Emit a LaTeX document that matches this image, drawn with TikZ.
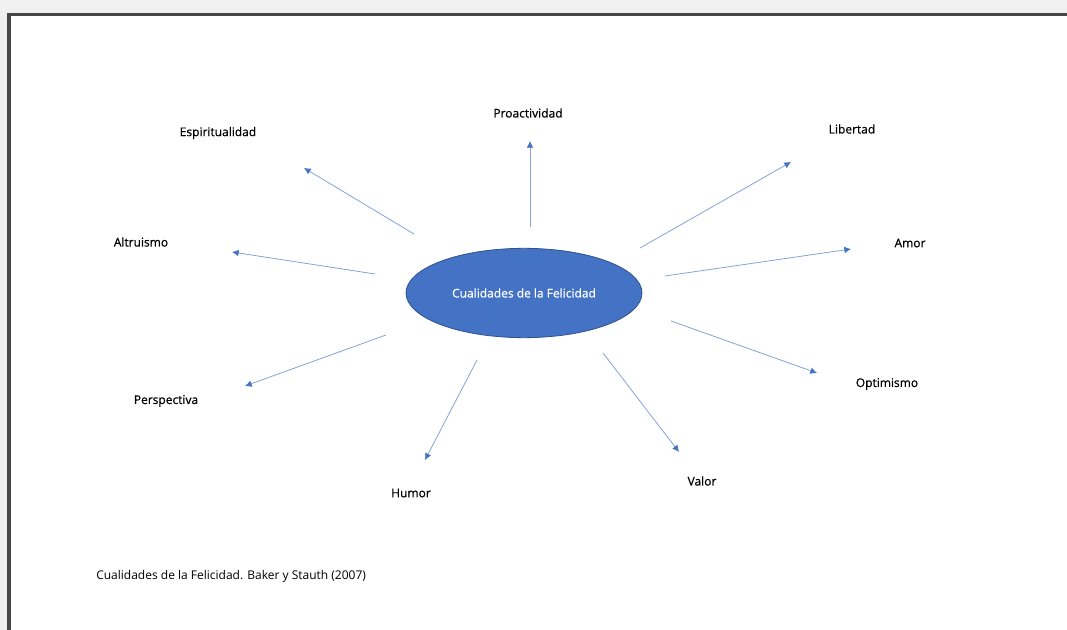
\documentclass[tikz,border=0pt]{standalone}
\usepackage{fontspec}
\setmainfont{Open Sans}
\newfontfamily\labelfont[FakeBold=0.6]{Open Sans}
\usetikzlibrary{arrows.meta,shapes.geometric}
\definecolor{accent}{HTML}{4472C4}
\definecolor{accentdark}{HTML}{2F528F}
\definecolor{framegray}{HTML}{474747}

\begin{document}
\begin{tikzpicture}[x=0.75pt,y=-0.75pt,
  q/.style={font=\labelfont\fontsize{9}{11}\selectfont,inner sep=0pt},
  hub/.style={ellipse,fill=accent,draw=accentdark,line width=0.6pt,minimum width=177pt,minimum height=67pt,inner sep=0pt,text=white,font=\labelfont\fontsize{9}{11}\selectfont},
  arr/.style={-{Latex[length=5pt,width=5pt,color=accent]},draw=accent!65,line width=0.6pt}]
\useasboundingbox (0,0) rectangle (1067,630);
\fill[gray!12] (0,0) rectangle (1067,630);
\fill[white] (10,16) rectangle (1067,630);
\draw[framegray,line width=2.6pt] (9,630) -- (9,14.5) -- (1067,14.5);
% centre
\node[hub] (hub) at (524,293) {Cualidades de la Felicidad};
% qualities
\node[q] (proactividad) at (528,113) {Proactividad};
\node[q] (libertad) at (852,129) {Libertad};
\node[q] (amor) at (910,243) {Amor};
\node[q] (optimismo) at (887,384) {Optimismo};
\node[q] (valor) at (702,481) {Valor};
\node[q] (humor) at (411,493) {Humor};
\node[q] (perspectiva) at (166,401) {Perspectiva};
\node[q] (altruismo) at (141,242) {Altruismo};
\node[q] (espiritualidad) at (218,133) {Espiritualidad};
% arrow ends
\coordinate (t1) at (530,227); \coordinate (h1) at (530,141);
\coordinate (t2) at (640,248); \coordinate (h2) at (791,162);
\coordinate (t3) at (665,276); \coordinate (h3) at (851,249);
\coordinate (t4) at (671,321); \coordinate (h4) at (817,373);
\coordinate (t5) at (603,353); \coordinate (h5) at (679,452);
\coordinate (t6) at (477,360); \coordinate (h6) at (425,460);
\coordinate (t7) at (386,335); \coordinate (h7) at (245,386);
\coordinate (t8) at (375,274); \coordinate (h8) at (232,252);
\coordinate (t9) at (414,234); \coordinate (h9) at (304,168);
\foreach \i in {1,...,9} {\draw[arr] (t\i) -- (h\i);}
\node[anchor=west,inner sep=0pt,font=\fontsize{9}{11}\selectfont] (caption) at (96,576) {Cualidades de la Felicidad. Baker y Stauth (2007)};
\end{tikzpicture}
\end{document}
